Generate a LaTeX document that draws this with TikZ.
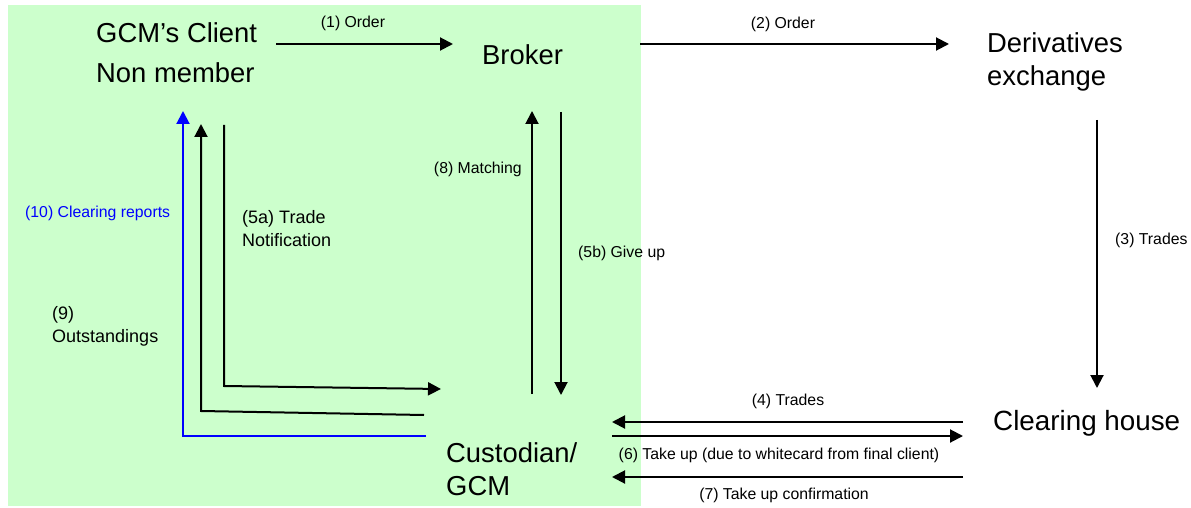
\documentclass[tikz,border=0pt]{standalone}
\usepackage{fontspec}
\setmainfont{Liberation Sans}
\usetikzlibrary{arrows.meta}
\definecolor{bggreen}{HTML}{CCFFCC}
\definecolor{myblue}{HTML}{0000FF}
\tikzset{
  big/.style={font=\fontsize{27.4}{33}\selectfont, inner sep=0pt, align=left, anchor=base west},
  mid/.style={font=\fontsize{18}{23}\selectfont, inner sep=0pt, align=left, anchor=base west},
  lbl/.style={font=\fontsize{15.8}{19}\selectfont, inner sep=0pt, anchor=base},
  flow/.style={line width=2pt, -{Triangle[length=13pt,width=13pt]}},
  blueflow/.style={line width=2pt, color=myblue, -{Triangle[length=13pt,width=13pt]}},
}
\begin{document}
\begin{tikzpicture}[x=1pt,y=-1pt]
\useasboundingbox (0,0) rectangle (1191,508);
\fill[bggreen] (8,5) rectangle (641,506);

% entities (base anchor = baseline of last line)
\node[big, font=\fontsize{27.4}{40}\selectfont] (client) at (96,83) {GCM’s Client\\Non member};
\node[big] (broker) at (482,65) {Broker};
\node[big] (exchange) at (987,86) {Derivatives\\exchange};
\node[big, font=\fontsize{27.8}{33}\selectfont] (clearing) at (993,430) {Clearing house};
\node[big] (custodian) at (446,495) {Custodian/\\GCM};

% (1) order
\coordinate (o1s) at (276,44); \coordinate (o1e) at (453,44);
\draw[flow] (o1s) -- (o1e);
\node[lbl] (l1) at (353,28) {(1) Order};

% (2) order
\coordinate (o2s) at (640,44); \coordinate (o2e) at (949,44);
\draw[flow] (o2s) -- (o2e);
\node[lbl] (l2) at (783,29) {(2) Order};

% (3) trades
\coordinate (t3s) at (1097,120); \coordinate (t3e) at (1097,388);
\draw[flow] (t3s) -- (t3e);
\node[lbl, anchor=base west] (l3) at (1115,244) {(3) Trades};

% (4) trades
\coordinate (t4s) at (963,422); \coordinate (t4e) at (612,422);
\draw[flow] (t4s) -- (t4e);
\node[lbl] (l4) at (788,405) {(4) Trades};

% (6) take up
\coordinate (t6s) at (612,436); \coordinate (t6e) at (963,436);
\draw[flow] (t6s) -- (t6e);
\node[lbl] (l6) at (779,459) {(6) Take up (due to whitecard from final client)};

% (7) take up confirmation
\coordinate (t7s) at (963,477); \coordinate (t7e) at (612,477);
\draw[flow] (t7s) -- (t7e);
\node[lbl] (l7) at (784,499) {(7) Take up confirmation};

% (8) matching
\coordinate (m8s) at (532,394); \coordinate (m8e) at (532,111);
\draw[flow] (m8s) -- (m8e);
\node[lbl, anchor=base east] (l8) at (522,173) {(8) Matching};

% (5b) give up
\coordinate (g5s) at (561,112); \coordinate (g5e) at (561,395);
\draw[flow] (g5s) -- (g5e);
\node[lbl, anchor=base west] (l5b) at (578,257) {(5b) Give up};

% (5a) trade notification
\coordinate (n5s) at (224,125); \coordinate (n5c) at (224,386); \coordinate (n5e) at (441,389);
\draw[flow] (n5s) -- (n5c) -- (n5e);
\node[mid] (l5a) at (242,246) {(5a) Trade\\Notification};

% (9) outstandings
\coordinate (s9s) at (424,415); \coordinate (s9c) at (201,411); \coordinate (s9e) at (201,124);
\draw[flow] (s9s) -- (s9c) -- (s9e);
\node[mid] (l9) at (52,342) {(9)\\Outstandings};

% (10) clearing reports
\coordinate (r10s) at (426,436); \coordinate (r10c) at (183,436); \coordinate (r10e) at (183,111);
\draw[blueflow] (r10s) -- (r10c) -- (r10e);
\node[lbl, anchor=base west, text=myblue] (l10) at (25,217) {(10) Clearing reports};
\end{tikzpicture}
\end{document}
